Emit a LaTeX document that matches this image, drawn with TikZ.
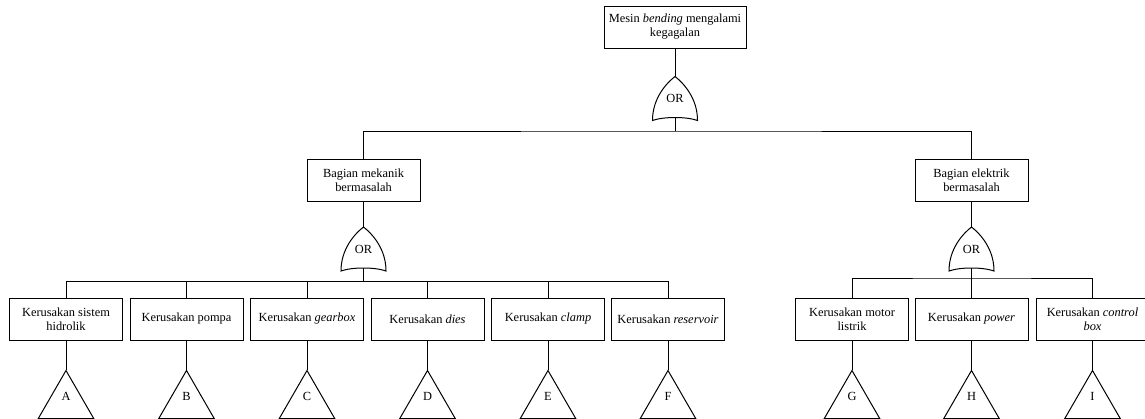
\documentclass[tikz,border=0pt]{standalone}
\usepackage{fontspec}
\setmainfont{Liberation Serif}
\usepackage{tikz}
\usetikzlibrary{shapes.geometric}
\usetikzlibrary{positioning}

\newcommand{\OrGate}[1]{%
  \draw (#1.south west)
    .. controls ([yshift=22pt]#1.south west) and ([xshift=-9pt,yshift=-7pt]#1.north) .. (#1.north)
    .. controls ([xshift=9pt,yshift=-7pt]#1.north) and ([yshift=22pt]#1.south east) .. (#1.south east)
    .. controls ([xshift=-11pt,yshift=4pt]#1.south east) and ([xshift=11pt,yshift=4pt]#1.south west) .. cycle;}

\begin{document}
\begin{tikzpicture}[x=1pt,y=-1pt,line width=1pt]
\tikzset{EventStyle/.style={draw,fill=white,rectangle,align=center,
    minimum width=113pt,minimum height=42pt,inner sep=2pt,
    font=\fontsize{12.4}{14}\selectfont}}
\tikzset{GateStyle/.style={minimum width=44pt,minimum height=43pt,inner sep=0pt,
    font=\fontsize{12.4}{14}\selectfont}}
\tikzset{TransferStyle/.style={draw,fill=white,regular polygon,regular polygon sides=3,
    minimum size=64pt,inner sep=0pt,text depth=12pt,
    font=\fontsize{12.4}{14}\selectfont}}
\useasboundingbox (0,0) rectangle (1145,418);

\node[EventStyle,minimum width=142pt] (fail) at (675,27) {Mesin \textit{bending} mengalami\\kegagalan};
\node[GateStyle] (or0) at (675,98.5) {OR};
\OrGate{or0}
\coordinate (j0) at (675,131);

\node[EventStyle] (mek) at (363.5,180) {Bagian mekanik\\bermasalah};
\node[EventStyle] (ele) at (971.5,180) {Bagian elektrik\\bermasalah};
\node[GateStyle] (or1) at (363.5,249) {OR};
\OrGate{or1}
\node[GateStyle] (or2) at (971.5,249) {OR};
\OrGate{or2}
\coordinate (j1) at (363.5,281);
\coordinate (j2) at (971.5,278);

\node[EventStyle] (hid) at (66,319) {Kerusakan sistem\\hidrolik};
\node[EventStyle] (pom) at (186.5,319) {Kerusakan pompa};
\node[EventStyle] (gea) at (307,319) {Kerusakan \textit{gearbox}};
\node[EventStyle] (die) at (427.5,319) {Kerusakan \textit{dies}};
\node[EventStyle] (cla) at (548,319) {Kerusakan \textit{clamp}};
\node[EventStyle] (res) at (668,319) {Kerusakan \textit{reservoir}};
\node[EventStyle] (mot) at (852,319) {Kerusakan motor\\listrik};
\node[EventStyle] (pow) at (971.5,319) {Kerusakan \textit{power}};
\node[EventStyle] (con) at (1092.5,319) {Kerusakan \textit{control}\\\textit{box}};

\node[TransferStyle,below=29pt of hid] (tA) {A};
\node[TransferStyle,below=29pt of pom] (tB) {B};
\node[TransferStyle,below=29pt of gea] (tC) {C};
\node[TransferStyle,below=29pt of die] (tD) {D};
\node[TransferStyle,below=29pt of cla] (tE) {E};
\node[TransferStyle,below=29pt of res] (tF) {F};
\node[TransferStyle,below=29pt of mot] (tG) {G};
\node[TransferStyle,below=29pt of pow] (tH) {H};
\node[TransferStyle,below=29pt of con] (tI) {I};

\draw (fail.south) -- (or0.north);
\draw ([yshift=3pt]or0.south) -- (j0);
\draw (mek.north) |- (j0) -| (ele.north);
\draw (mek.south) -- (or1.north);
\draw (ele.south) -- (or2.north);
\draw ([yshift=3pt]or1.south) -- (j1);
\draw ([yshift=3pt]or2.south) -- (j2);
\draw (hid.north) |- (j1) -| (res.north);
\draw (j1) -| (pom.north);
\draw (j1) -| (gea.north);
\draw (j1) -| (die.north);
\draw (j1) -| (cla.north);
\draw (mot.north) |- (j2) -| (con.north);
\draw (j2) -- (pow.north);
\draw (hid.south) -- (tA.north);
\draw (pom.south) -- (tB.north);
\draw (gea.south) -- (tC.north);
\draw (die.south) -- (tD.north);
\draw (cla.south) -- (tE.north);
\draw (res.south) -- (tF.north);
\draw (mot.south) -- (tG.north);
\draw (pow.south) -- (tH.north);
\draw (con.south) -- (tI.north);

\end{tikzpicture}
\end{document}
